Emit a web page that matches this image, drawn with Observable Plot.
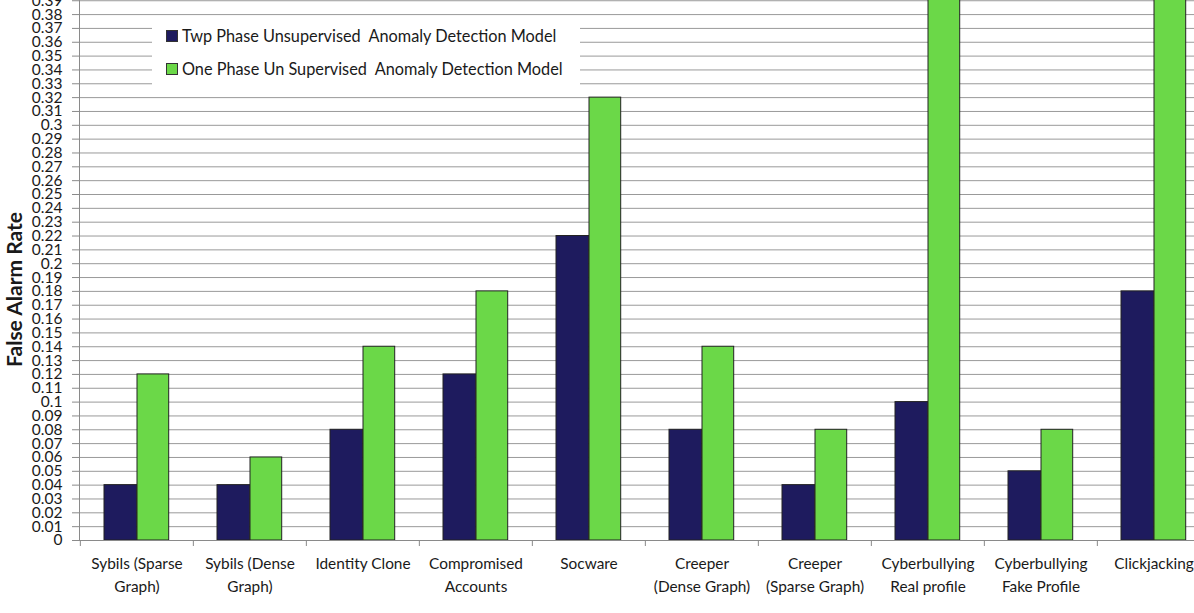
<!DOCTYPE html>
<html>
<head>
<meta charset="utf-8">
<script src="https://cdn.jsdelivr.net/npm/d3@7"></script>
<script src="https://cdn.jsdelivr.net/npm/@observablehq/plot@0.6"></script>
<style>
  html, body { margin: 0; padding: 0; background: #fff; overflow: hidden; }
  #chart { position: relative; width: 1194px; height: 613px; overflow: hidden; font-family: Lato, "Open Sans", sans-serif; }
  #chart svg { overflow: hidden; }
  .legend { position: absolute; left: 152px; top: 19px; width: 428px; height: 70px; background: #fff; color: #1a1a1a; font-size: 16.3px; }
  .legend .item { position: absolute; left: 14px; display: flex; align-items: center; white-space: pre; }
  .legend .sw { display: inline-block; width: 10px; height: 10px; margin-right: 4px; border: 1px solid #333; }
</style>
</head>
<body>
<div id="chart"></div>
<script>
// Attack categories along the x axis (line breaks as drawn under each group)
const categories = [
  "Sybils (Sparse\nGraph)",
  "Sybils (Dense\nGraph)",
  "Identity Clone",
  "Compromised\nAccounts",
  "Socware",
  "Creeper\n(Dense Graph)",
  "Creeper\n(Sparse Graph)",
  "Cyberbullying\nReal profile",
  "Cyberbullying\nFake Profile",
  "Clickjacking"
];

// False alarm rate per category for each model
const twoPhase = [0.04, 0.04, 0.08, 0.12, 0.22, 0.08, 0.04, 0.10, 0.05, 0.18];
const onePhase = [0.12, 0.06, 0.14, 0.18, 0.32, 0.14, 0.08, 0.40, 0.08, 0.40];

const seriesNames = [
  "Twp Phase Unsupervised  Anomaly Detection Model",
  "One Phase Un Supervised  Anomaly Detection Model"
];
const seriesColors = ["#1e1b5e", "#6bd848"];

// y ticks every 0.01
const yTicks = d3.range(0, 41).map(i => i / 100);

const rows = categories.map((c, i) => ({category: c, two: twoPhase[i], one: onePhase[i]}));

const plot = Plot.plot({
  width: 1194,
  height: 613,
  marginLeft: 79,
  marginRight: 0,
  marginTop: 0,
  marginBottom: 73,
  style: {fontFamily: "Lato, 'Open Sans', sans-serif", fontSize: "15px", color: "#1a1a1a", background: "#fff"},
  x: {domain: categories, range: [78.5, 1211.8], padding: 0},
  y: {domain: [0, 0.4], range: [540, -13.6]},
  marks: [
    Plot.gridY(yTicks, {stroke: "#999", strokeOpacity: 1}),
    Plot.barY(rows, {x: "category", y: "two", fill: seriesColors[0], stroke: "#222", strokeWidth: 1, insetLeft: 24, insetRight: 56.3}),
    Plot.barY(rows, {x: "category", y: "one", fill: seriesColors[1], stroke: "#222", strokeWidth: 1, insetLeft: 57, insetRight: 24.3}),
    Plot.frame({anchor: "left", stroke: "#8a8a8a"}),
    Plot.frame({anchor: "bottom", stroke: "#8a8a8a"}),
    Plot.axisY({ticks: yTicks, tickSize: 7, tickPadding: 10, stroke: "#8a8a8a",
      tickFormat: d => String(+d.toFixed(2)), label: null, fontSize: 15.5}),
    // category separators on the x axis
    Plot.axisX({tickSize: 6, dx: -56.65, stroke: "#8a8a8a", tickFormat: () => "", label: null}),
    Plot.axisX({tickSize: 0, tickPadding: 12, lineHeight: 1.5, label: null, fontSize: 15.4}),
    Plot.text(["False Alarm Rate"], {frameAnchor: "left", textAnchor: "middle", rotate: -90, dx: -64, dy: 19, fontWeight: "bold", fontSize: 21})
  ]
});

const chart = document.getElementById("chart");
chart.appendChild(plot);

const legend = document.createElement("div");
legend.className = "legend";
seriesNames.forEach((name, i) => {
  const item = document.createElement("div");
  item.className = "item";
  item.style.top = (i === 0 ? 7 : 40) + "px";
  const sw = document.createElement("span");
  sw.className = "sw";
  sw.style.background = seriesColors[i];
  item.appendChild(sw);
  item.appendChild(document.createTextNode(name));
  legend.appendChild(item);
});
chart.appendChild(legend);
</script>
</body>
</html>
